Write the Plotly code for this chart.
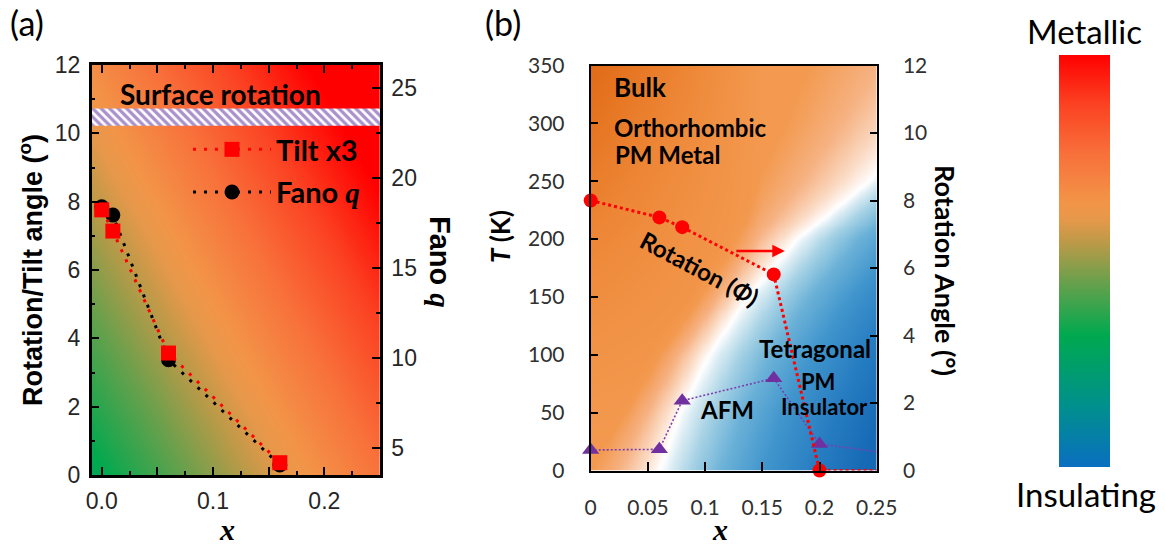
import numpy as np
import plotly.graph_objects as go

# ---------------- data ----------------
# Panel (a): Tilt (x3) on the left axis, Fano q on the right axis
A_X = [0.0, 0.01, 0.06, 0.16]
TILT_X3 = [7.76, 7.14, 3.57, 0.36]
FANO_Q = [18.4, 17.94, 9.9, 4.06]
SURFACE_BAND = (10.22, 10.73)

# Panel (b): rotation angle (right axis) and AFM transition T (left axis)
B_X = [0.0, 0.06, 0.08, 0.16, 0.20]
ROT_ANGLE = [8.0, 7.5, 7.21, 5.81, 0.0]
T_AFM = [17.7, 18.3, 60.3, 79.7, 22.9]
B_X_EDGE = 0.25          # dotted lines run on to the frame edge
ROT_EDGE = 0.0
T_AFM_EDGE = 16.3

# tick labels
A_XTICKS = [0, 0.05, 0.1, 0.15, 0.2, 0.25]
A_XTICKTEXT = ["0.0", "", "0.1", "", "0.2", ""]
A_YTICKS = [0, 2, 4, 6, 8, 10, 12]
A_Y2TICKS = [5, 10, 15, 20, 25]
B_XTICKS = [0, 0.05, 0.1, 0.15, 0.2, 0.25]
B_XTICKTEXT = ["0", "0.05", "0.1", "0.15", "0.2", "0.25"]
B_YTICKS = [0, 50, 100, 150, 200, 250, 300, 350]
B_Y2TICKS = [0, 2, 4, 6, 8, 10, 12]

# ---------------- layout helpers ----------------
W, H = 1165, 545
def px(v):
    return v / W
def py(v):
    return 1 - v / H

METAL_SCALE = [
    [0.00, "#0a6fc0"], [0.15, "#00908c"], [0.32, "#00a94f"],
    [0.45, "#6aa04c"], [0.54, "#b89a48"], [0.60, "#e6984a"],
    [0.64, "#f29548"], [0.76, "#f8703a"], [0.88, "#fb4222"],
    [1.00, "#ff0000"],
]

PHASE_SCALE = [
    [0.0000, "#e06a18"], [0.0667, "#e57420"], [0.2000, "#ee8838"],
    [0.3333, "#f39a50"], [0.3867, "#f6b282"], [0.4333, "#fbdcc6"],
    [0.4667, "#ffffff"], [0.4933, "#dcedf4"], [0.5467, "#a6d2e5"],
    [0.6267, "#6cb2d8"], [0.7333, "#4196cd"], [0.8667, "#277dc1"],
    [1.0000, "#1569b5"],
]

# background field of panel (a) (metallicity gradient)
ax_g = np.linspace(-0.012, 0.253, 120)
ay_g = np.linspace(3.3, 26.5, 120)          # in Fano-axis units
AX, AY = np.meshgrid(ax_g, ay_g)
XN = (AX + 0.009) / 0.259
YN = (AY - 3.5) / 22.78
ZA = np.clip(0.3 + 0.45 * XN + 0.363 * YN, 0, 1)

# background field of panel (b) (phase diagram shading)
bx_g = np.linspace(-0.003, 0.253, 140)
bt_g = np.linspace(-3, 353, 140)
BX, BT = np.meshgrid(bx_g, bt_g)
XB = np.interp(BT, [0, 50, 100, 150, 200, 250, 300, 350],
               [0.06, 0.078, 0.103, 0.137, 0.18, 0.243, 0.29, 0.34])
XO = np.interp(BT, [0, 100, 200, 300, 350], [0.0, 0.05, 0.12, 0.17, 0.19])
t = np.clip((XB - BX) / (XB - XO), 0, 1)
dark = 2.5 * np.clip(BT / 350, 0, 1) ** 1.5 * np.clip(1 - BX / 0.15, 0, None)
ZB = np.where(BX < XB, -t * (1 + dark), np.clip((BX - XB) / 0.045, 0, 4))

fig = go.Figure()

# ---- panel (a) ----
fig.add_trace(go.Heatmap(
    x=ax_g, y=ay_g, z=ZA, zmin=0, zmax=1, colorscale=METAL_SCALE,
    zsmooth="best", hoverinfo="skip", xaxis="x", yaxis="y",
    colorbar=dict(
        x=px(1059), xanchor="left", xpad=0,
        y=py(261), yanchor="middle", ypad=0,
        lenmode="pixels", len=412, thicknessmode="pixels", thickness=51,
        outlinewidth=0, ticks="", showticklabels=False,
    ),
))
fig.add_trace(go.Scatter(
    x=A_X, y=FANO_Q, mode="lines+markers",
    name="<b>Fano <span style='font-family:Liberation Serif'><i>q</i></span></b>",
    xaxis="x", yaxis="y", legendgroup="g2", legendrank=2, cliponaxis=False,
    line=dict(color="black", width=3, dash="3px,8px"),
    marker=dict(symbol="circle", size=15, color="black"),
))
fig.add_trace(go.Scatter(
    x=[-0.009, 0.25, 0.25, -0.009, -0.009],
    y=[SURFACE_BAND[0], SURFACE_BAND[0], SURFACE_BAND[1], SURFACE_BAND[1], SURFACE_BAND[0]],
    mode="lines", fill="toself", fillcolor="white",
    fillpattern=dict(shape="\\", fgcolor="#55249a", bgcolor="white", size=6, solidity=0.55),
    line=dict(width=0), hoverinfo="skip", showlegend=False,
    xaxis="x", yaxis="y2",
))
fig.add_trace(go.Scatter(
    x=A_X, y=TILT_X3, mode="lines+markers", name="<b>Tilt x3</b>",
    xaxis="x", yaxis="y2", legendgroup="g1", legendrank=1, cliponaxis=False,
    line=dict(color="#ff0000", width=3, dash="3px,8px"),
    marker=dict(symbol="square", size=15, color="#ff0000"),
))

# ---- panel (b) ----
fig.add_trace(go.Heatmap(
    x=bx_g, y=bt_g, z=ZB, zmin=-3.5, zmax=4, colorscale=PHASE_SCALE,
    zsmooth="best", hoverinfo="skip", showscale=False, xaxis="x3", yaxis="y3",
))
fig.add_trace(go.Scatter(
    x=B_X + [B_X_EDGE], y=T_AFM + [T_AFM_EDGE], mode="lines",
    line=dict(color="#7a3fb0", width=1.6, dash="2px,2px"),
    showlegend=False, xaxis="x3", yaxis="y3",
))
fig.add_trace(go.Scatter(
    x=B_X, y=T_AFM, mode="markers", cliponaxis=False,
    marker=dict(symbol="triangle-up", size=15, color="#7030a0"),
    showlegend=False, xaxis="x3", yaxis="y3",
))
fig.add_trace(go.Scatter(
    x=B_X + [B_X_EDGE], y=ROT_ANGLE + [ROT_EDGE], mode="lines",
    line=dict(color="#ff0000", width=3, dash="3px,3px"),
    showlegend=False, xaxis="x3", yaxis="y4",
))
fig.add_trace(go.Scatter(
    x=B_X, y=ROT_ANGLE, mode="markers", cliponaxis=False,
    marker=dict(symbol="circle", size=14, color="#ff0000"),
    showlegend=False, xaxis="x3", yaxis="y4",
))

AFONT = dict(family="Liberation Sans, Arial", size=23, color="#262626")
BFONT = dict(family="Lato, Open Sans", size=21, color="#303030")

def axis(**kw):
    base = dict(showline=True, linecolor="black", showgrid=False, zeroline=False,
                ticks="inside", tickcolor="black", tickwidth=2)
    base.update(kw)
    return base

fig.update_layout(
    width=W, height=H, margin=dict(l=0, r=0, t=0, b=0, autoexpand=False),
    paper_bgcolor="white", plot_bgcolor="white",
    xaxis=axis(domain=[px(91.7), px(380)], range=[-0.009, 0.25], anchor="y",
               linewidth=2.5, mirror="ticks", ticklen=8,
               tickvals=A_XTICKS, ticktext=A_XTICKTEXT, tickfont=AFONT,
               ticklabelstandoff=4,
               minor=dict(tickvals=[0.025, 0.075, 0.125, 0.175, 0.225], ticks="inside",
                          ticklen=4, tickwidth=2, tickcolor="black")),
    yaxis=axis(domain=[py(475), py(65)], range=[3.5, 26.28], anchor="x", side="right",
               linewidth=2.5, ticklen=8, tickvals=A_Y2TICKS, tickfont=AFONT,
               ticklabelstandoff=4,
               minor=dict(tickvals=[7.5, 12.5, 17.5, 22.5], ticks="inside",
                          ticklen=4, tickwidth=2, tickcolor="black")),
    yaxis2=axis(range=[0, 12], anchor="x", overlaying="y", side="left",
                linewidth=2.5, ticklen=8, tickvals=A_YTICKS, tickfont=AFONT,
                ticklabelstandoff=4,
                minor=dict(tickvals=[1, 3, 5, 7, 9, 11], ticks="inside",
                           ticklen=4, tickwidth=2, tickcolor="black")),
    xaxis3=axis(domain=[px(590.7), px(876.7)], range=[0, 0.25], anchor="y3",
                linewidth=2, mirror=True, ticklen=9,
                tickvals=B_XTICKS, ticktext=B_XTICKTEXT, tickfont=BFONT,
                ticklabelstandoff=17),
    yaxis3=axis(domain=[py(470.5), py(65.5)], range=[0, 350], anchor="x3",
                linewidth=2, ticklen=7, tickvals=B_YTICKS, tickfont=BFONT,
                ticklabelstandoff=20),
    yaxis4=axis(range=[0, 12], anchor="x3", overlaying="y3", side="right",
                linewidth=2, ticklen=7, tickvals=B_Y2TICKS, tickfont=BFONT,
                ticklabelstandoff=20),
    legend=dict(x=px(188), y=py(124), xanchor="left", yanchor="top",
                bgcolor="rgba(0,0,0,0)", borderwidth=0,
                font=dict(family="Lato", size=29, color="black"),
                itemwidth=78, tracegroupgap=2),
)

def note(text, x, y, size, family="Lato", angle=0, xref="paper", yref="paper",
         xanchor="center", color="black"):
    fig.add_annotation(text=text, x=x, y=y, xref=xref, yref=yref, showarrow=False,
                       textangle=angle, xanchor=xanchor, yanchor="middle",
                       font=dict(family=family, size=size, color=color))

# panel labels and colour-bar captions
note("(a)", px(27), py(22), 34)
note("(b)", px(503), py(22), 34)
note("Metallic", px(1084), py(31), 33)
note("Insulating", px(1086), py(494), 33)

# axis titles
note("<b>Rotation/Tilt angle (<sup>o</sup>)</b>", px(31), py(270), 27,
     family="Liberation Sans, Arial", angle=-90)
note("<b>Fano <span style='font-family:Liberation Serif'><i>q</i></span></b>",
     px(440), py(262), 29, family="Liberation Sans, Arial", angle=90)
note("<b><i>x</i></b>", px(227), py(529), 30, family="Liberation Serif")
note("<b><i>x</i></b>", px(720), py(529), 30, family="Liberation Serif")
note("<b><i>T</i> (K)</b>", px(500), py(237), 26, angle=-90)
note("<b>Rotation Angle (°)</b>", px(946), py(270), 27, angle=90)

# in-plot labels
note("<b>Surface rotation</b>", 0.107, 11.14, 28, xref="x", yref="y2")
note("<b>Bulk</b>", 0.0184, 331, 26, xref="x3", yref="y3", xanchor="left")
note("<b>Orthorhombic</b>", 0.0184, 296, 24, xref="x3", yref="y3", xanchor="left")
note("<b>PM Metal</b>", 0.0195, 273, 24, xref="x3", yref="y3", xanchor="left")
note("<b>Rotation (<i>Φ</i>)</b>", 0.0956, 175, 24, xref="x3", yref="y3", angle=28)
note("<b>Tetragonal</b>", 0.196, 105.6, 24, xref="x3", yref="y3")
note("<b>PM</b>", 0.1987, 76.5, 22, xref="x3", yref="y3")
note("<b>Insulator</b>", 0.204, 55.5, 22, xref="x3", yref="y3")
note("<b>AFM</b>", 0.1189, 52.3, 24, xref="x3", yref="y3")

# arrow pointing to the right-hand axis
fig.add_annotation(x=0.1697, y=189.7, ax=0.126, ay=189.7, xref="x3", yref="y3",
                   axref="x3", ayref="y3", text="", showarrow=True,
                   arrowhead=2, arrowsize=1, arrowwidth=2.5, arrowcolor="#ff0000")

# remove the browser's default page margin so the figure fills the window exactly
fig.write_html("out.html",
               config={"displayModeBar": False},
               post_script="document.body.style.margin='0px';"
                           "document.body.style.overflow='hidden';")
